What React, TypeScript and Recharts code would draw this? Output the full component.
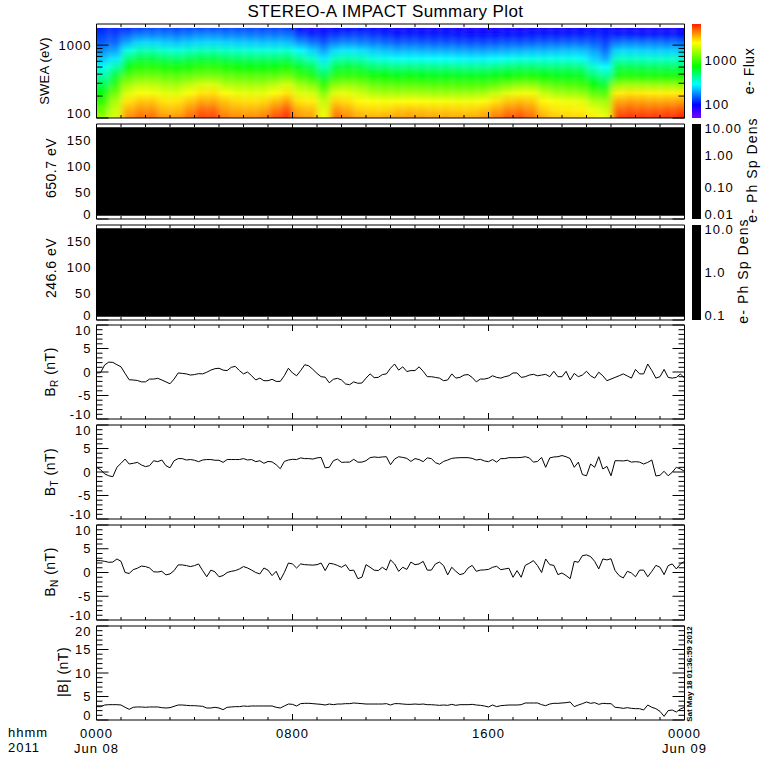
import React from "react";
import { Bar, ComposedChart, Line, XAxis, YAxis } from "recharts";

const FONT = "'Liberation Sans', sans-serif";
const LEFT = 96.5;
const RIGHT = 684.5;

// one sample every 10 minutes over the day
const hours = Array.from({ length: 145 }, (_, i) => i / 6);
const hourTicks = Array.from({ length: 25 }, (_, i) => i);

const brValues = [
  -0.2, -0.15, 1.5, 2.1, 2.05, 1.55, 1.1, -0.3, -1.65, -1.7,
  -1.8, -2.1, -2.1, -1.5, -1.5, -1.35, -1.7, -2.1, -2.5, -1.5,
  -0.2, -0.3, -0.4, -0.65, -0.55, -0.35, -0.4, -0.05, 0.4, 0.7,
  0.8, 0.4, 0.3, 1, 1.2, 0.3, -0.4, 0, -0.8, -1.7,
  -1.3, -1.85, -1.85, -1.55, -2, -2, -0.8, 0.8, -0.2, -0.8,
  0.3, 1.55, 1.3, 0.55, -0.3, -1, -1.1, -2.3, -1.55, -1.35,
  -1.7, -2.55, -2.7, -2.1, -2.4, -2.35, -1.3, -0.4, -1.2, -1.15,
  -0.55, -0.4,
  0.8, 1.7, 0.4, 1.1, 0.1, 0.3, 0.3, 1.1, 0.15, -1,
  -1, -1.15, -1.3, -1.85, -1.7, -0.4, -1.3, -1.15, -0.65, -0.55,
  -1.15, -2.1, -1.5, -1.5, -1.3, -0.8, -1.15, -1.3, -1, -0.8,
  -0.2, -0.2, -1.15, -1, -0.65, -0.5, -0.8, -0.65, -0.5, -1,
  0.15, -1, -1, 0.15, -1.7, -0.3, -1, -0.65, 0.15, -0.8,
  -1.3, -0.05, -0.8, -1.85, -1.5, -1.15, -0.8, -0.4, -0.85, -1.3,
  0.55, -0.4, -0.4, 1.7, 0.3, -1.3, -1, 0.55, -1.15, -1.3,
  -1.15, -0.4, -1.3,
];

const btValues = [
  1, 0.5, -0.4, -0.8, -1, 1, 1.85, 2.75, 1.7, 1.85,
  2.05, 1.5, 1.15, 1.35, 2.4, 2.2, 2.55, 1.35, 0.9, 2.4,
  2.85, 2.85, 2.55, 2.65, 2.5, 2.2, 2.55, 2.65, 2.65, 2.5,
  2.5, 2.05, 2.65, 2.65, 2.65, 2.65, 2.85, 2.55, 2.65, 2.2,
  2.4, 1.85, 2.25, 2.15, 1.55, 0.7, 2.25, 2.55, 2.7, 2.65,
  3, 2.85, 2.85, 2.75, 3, 3.1, 0.9, 1, 2.4, 2.75,
  2.05, 2.1, 2.1, 2.7, 2.1, 2.1, 2.4, 3.05, 3.2, 3.1,
  3.2, 3.25,
  1.55, 2.75, 3.25, 3.1, 2.9, 2.25, 2.85, 2.65, 2.2, 3,
  2.85, 2, 1.65, 2.25, 2.55, 2.9, 3, 3.05, 3.05, 3.05,
  2.9, 2.55, 2.7, 2.35, 2.2, 2.65, 2.1, 2.85, 2.85, 3.05,
  3.05, 3.05, 3.1, 3.25, 3, 2.1, 2.25, 3.1, 1, 3,
  3.2, 3.25, 3.5, 3.25, 2.85, 1, 2.1, -0.55, -0.8, 1.7,
  1, 3.25, 0.65, 1.2, -0.8, 2.4, 2.4, 2.35, 2.5, 2.1,
  2.2, 2.1, 1.7, 2.05, 2.55, -0.85, -0.7, 0.15, -0.8, -0.05,
  1, 0.65, 0.15,
];

const bnValues = [
  2.5, 2.5, 2.35, 2.15, 2.2, 2.85, 2.35, 0, -0.2, 0.6,
  0.9, 1.35, 1.25, 0.95, 0.15, 0.1, 0.25, -0.5, -0.3, 0.4,
  1.6, 1.6, 1.45, 1.25, 1.45, 1.8, 0.4, -0.9, 0.5, 0.15,
  -0.9, -0.65, 0, 0.25, 0.4, 0.75, 1.25, 0.95, 0.5, 0,
  -0.3, 0.95, 0.5, -0.65, 0.25, -1.6, 0, 2, 1.8, 0.95,
  1.8, 1.65, 1.6, 1.55, 1.65, 2, 0.4, 1.95, 1.8, 1.5,
  1.1, 1.65, 0.4, 0.5, -1.3, -1, 1.65, 1.1, 0.5, 0.4,
  1.1, 0.5,
  2.65, 1.8, 0.25, 1.1, 0.65, 2.2, 1.65, 1.8, 2.35, 0.5,
  0.5, 1.8, 2.2, 1.45, -0.5, 1.1, 0.25, -0.45, -0.2, 0.95,
  1.5, 0.25, 0.5, 0.55, 0.65, 1.1, 1.3, 0.6, 0.75, 0.9,
  -1, 0.4, -1, 1.5, 1.95, 2.5, 1.45, 0, 2.85, 1.65,
  1.5, -0.45, -0.1, -0.65, -1.3, 2.35, 2.15, 3.55, 3.7, 3.35,
  2.35, 0.75, 2.85, 2.65, 2.9, 0.4, -0.65, -1.15, 0.25, -0.1,
  -0.9, 0.5, 0.5, -0.9, 0.25, 1.5, 1.1, -0.45, 1.45, 1.8,
  0.75, 1.8, 2.35,
];

const bmagValues = [
  2.84, 2.84, 3.19, 3.26, 3.26, 3.26, 3.19, 2.7, 2.27, 2.7,
  2.77, 2.77, 2.7, 2.77, 2.77, 2.77, 2.62, 2.55, 2.62, 2.91,
  3.19, 3.19, 3.12, 3.05, 3.05, 2.98, 2.91, 2.55, 2.55, 2.7,
  2.55, 2.2, 2.7, 2.77, 2.84, 2.84, 2.98, 2.91, 2.98, 2.98,
  2.98, 2.98, 2.98, 2.98, 2.7, 2.55, 2.98, 3.4, 3.33, 2.98,
  3.48, 3.55, 3.55, 3.48, 3.4, 3.33, 3.19, 3.4, 3.26, 3.4,
  3.4, 3.48, 3.48, 3.62, 3.55, 3.48, 3.4, 3.4, 3.4, 3.4,
  3.4, 3.48,
  3.19, 3.48, 3.48, 3.4, 3.33, 3.33, 3.4, 3.33, 3.4, 3.26,
  3.26, 3.19, 3.12, 3.19, 3.12, 3.33, 3.12, 3.26, 3.26, 3.26,
  3.33, 3.19, 3.12, 2.98, 2.77, 3.19, 2.84, 3.05, 3.12, 3.19,
  3.19, 3.19, 3.26, 3.62, 3.62, 3.62, 3.62, 3.26, 3.05, 3.4,
  3.55, 3.55, 3.62, 3.69, 3.83, 2.84, 3.19, 3.48, 3.83, 3.55,
  3.69, 3.33, 3.55, 3.48, 3.48, 2.7, 2.62, 2.48, 2.62, 2.48,
  2.41, 2.41, 2.13, 3.19, 2.7, 2.41, 1.84, 0.78, 1.99, 2.13,
  1.7, 2.34, 2.7,
];

// SWEA spectrogram, log10 of flux, one value per half hour at each energy channel
const sweaEnergies = [1720, 1400, 1100, 850, 650, 500, 380, 290, 220, 170, 130, 100];
const flux1720 = [2.05,2.05,2.07,2.1,2.12,2.12,2.1,2.12,2.12,2.12,2.12,2.12,2.12,2.11,2.11,2.1, 2.0,1.96,1.97,1.98,2.0,2.0,2.0,1.98, 1.96,1.97,1.96,1.96,1.97,1.96,1.95,1.95,1.95,1.95,1.95,1.96,1.96,1.96,1.96,1.97,1.97,1.98, 1.95,1.95,1.94,1.94,1.94,1.94];
const flux1400 = [2.1,2.1,2.17,2.22,2.22,2.22,2.2,2.22,2.24,2.24,2.22,2.22,2.21,2.2,2.2,2.2, 2.1,2.06,2.05,2.08,2.1,2.1,2.08,2.06, 2.03,2.04,2.03,2.03,2.03,2.02,2.01,2.01,2.01,2.02,2.02,2.03,2.03,2.03,2.04,2.04,2.05,2.03, 2.04,2.04,2.03,2.03,2.03,2.03];
const flux1100 = [2.16,2.17,2.3,2.38,2.38,2.36,2.34,2.36,2.38,2.38,2.37,2.36,2.35,2.34,2.34,2.34, 2.26,2.2,2.14,2.22,2.24,2.22,2.2,2.18, 2.15,2.16,2.15,2.14,2.14,2.13,2.12,2.12,2.13,2.14,2.14,2.15,2.16,2.16,2.17,2.17,2.15,2.1, 2.2,2.21,2.2,2.2,2.19,2.19];
const flux850 = [2.25,2.28,2.5,2.58,2.58,2.54,2.52,2.55,2.57,2.57,2.55,2.54,2.53,2.52,2.52,2.53, 2.45,2.38,2.28,2.4,2.42,2.4,2.36,2.34, 2.31,2.32,2.31,2.3,2.3,2.29,2.28,2.28,2.29,2.3,2.31,2.32,2.32,2.33,2.34,2.34,2.28,2.18, 2.38,2.38,2.37,2.36,2.36,2.36];
const flux650 = [2.36,2.42,2.68,2.76,2.76,2.72,2.7,2.73,2.76,2.76,2.73,2.71,2.7,2.7,2.7,2.72, 2.63,2.56,2.42,2.58,2.6,2.58,2.52,2.5, 2.47,2.48,2.47,2.46,2.46,2.45,2.44,2.44,2.46,2.48,2.5,2.5,2.5,2.5,2.5,2.48,2.38,2.3, 2.56,2.56,2.55,2.54,2.54,2.54];
const flux500 = [2.48,2.6,2.86,2.93,2.93,2.9,2.88,2.9,2.94,2.94,2.9,2.88,2.87,2.87,2.87,2.9, 2.8,2.74,2.58,2.76,2.78,2.76,2.7,2.68, 2.66,2.67,2.66,2.65,2.65,2.64,2.64,2.64,2.66,2.68,2.7,2.7,2.68,2.68,2.68,2.66,2.54,2.46, 2.74,2.74,2.73,2.72,2.72,2.72];
const flux380 = [2.6,2.78,3.02,3.08,3.08,3.05,3.04,3.06,3.1,3.1,3.06,3.04,3.03,3.03,3.04,3.08, 2.98,2.92,2.74,2.94,2.96,2.94,2.88,2.86, 2.84,2.85,2.84,2.83,2.83,2.82,2.82,2.82,2.84,2.87,2.9,2.9,2.86,2.84,2.84,2.82,2.7,2.62, 2.9,2.92,2.9,2.9,2.89,2.89];
const flux290 = [2.72,2.94,3.18,3.25,3.24,3.2,3.18,3.24,3.3,3.3,3.22,3.2,3.19,3.19,3.24,3.3, 3.18,3.12,2.92,3.14,3.16,3.12,3.06,3.04, 3.02,3.03,3.02,3.01,3.01,3.0,3.0,3.0,3.04,3.1,3.14,3.14,3.06,3.02,3.0,2.98,2.86,2.78, 3.16,3.18,3.17,3.16,3.16,3.16];
const flux220 = [2.84,3.08,3.32,3.38,3.37,3.33,3.32,3.38,3.44,3.45,3.38,3.34,3.33,3.33,3.38,3.44, 3.32,3.3,3.12,3.33,3.33,3.28,3.22,3.2, 3.2,3.21,3.2,3.18,3.18,3.18,3.18,3.2,3.26,3.32,3.36,3.36,3.26,3.2,3.18,3.16,3.04,3.0, 3.42,3.44,3.43,3.42,3.42,3.42];
const flux170 = [2.96,3.2,3.44,3.5,3.5,3.44,3.44,3.5,3.56,3.56,3.5,3.46,3.45,3.46,3.52,3.58, 3.44,3.42,3.26,3.48,3.45,3.4,3.38,3.37, 3.38,3.39,3.38,3.37,3.37,3.36,3.36,3.38,3.44,3.5,3.52,3.5,3.4,3.36,3.35,3.33,3.22,3.18, 3.56,3.58,3.57,3.56,3.56,3.57];
const flux130 = [3.08,3.28,3.54,3.6,3.6,3.52,3.52,3.6,3.68,3.68,3.58,3.55,3.54,3.56,3.64,3.72, 3.54,3.52,3.32,3.6,3.55,3.48,3.47,3.47, 3.5,3.51,3.5,3.49,3.49,3.48,3.48,3.5,3.56,3.62,3.64,3.6,3.48,3.44,3.43,3.42,3.34,3.28, 3.68,3.7,3.69,3.69,3.7,3.71];
const flux100 = [3.18,3.32,3.62,3.68,3.68,3.6,3.6,3.68,3.76,3.76,3.65,3.62,3.62,3.64,3.74,3.8, 3.6,3.58,3.36,3.68,3.62,3.56,3.55,3.56, 3.58,3.59,3.58,3.57,3.57,3.56,3.56,3.58,3.65,3.72,3.74,3.68,3.55,3.5,3.48,3.47,3.42,3.36, 3.78,3.79,3.79,3.79,3.8,3.81];
const fluxChannels = [flux1720, flux1400, flux1100, flux850, flux650, flux500, flux380, flux290, flux220, flux170, flux130, flux100];

const pitchAngleRange = [6, 174];
const fluxBarDomain = [50, 6500];
const rainbow: [number, string][] = [
  [0, "#7a00ff"], [0.14, "#0000ff"], [0.25, "#0080ff"], [0.36, "#00ffff"],
  [0.55, "#00ff00"], [0.8, "#ffff00"], [0.9, "#ff9000"], [1, "#ff2000"],
];

const hexToRgb = (h: string) => [1, 3, 5].map((i) => parseInt(h.slice(i, i + 2), 16));
function rainbowAt(t: number) {
  const v = Math.min(1, Math.max(0, t));
  for (let i = 1; i < rainbow.length; i++) {
    if (v <= rainbow[i][0]) {
      const f = (v - rainbow[i - 1][0]) / (rainbow[i][0] - rainbow[i - 1][0]);
      const a = hexToRgb(rainbow[i - 1][1]);
      const b = hexToRgb(rainbow[i][1]);
      return `rgb(${a.map((c, k) => Math.round(c + (b[k] - c) * f)).join(",")})`;
    }
  }
  return rainbow[rainbow.length - 1][1];
}
const logMin = Math.log10(fluxBarDomain[0]);
const logMax = Math.log10(fluxBarDomain[1]);

const columnHours = 0.5;
const heatData = flux100.map((_, i) => ({
  hour: (i + 0.5) * columnHours,
  range: [100, 1720],
  levels: fluxChannels.map((row) => row[i]),
}));
const lineTable = (values: number[]) => hours.map((hour, i) => ({ hour, value: values[i] }));

function HeatColumn(props: any) {
  const { x, y, width, height, index, payload } = props;
  const id = `heat-col-${index}`;
  const span = Math.log10(1720 / 100);
  const last = index === heatData.length - 1;
  // edge columns run past the frame so the blur does not fade there, the axis clip cuts them
  const rx = index === 0 ? x - width : x;
  const rw = index === 0 || last ? width * 2 : width;
  return (
    <g>
      <defs>
        <linearGradient id={id} x1="0" y1="0" x2="0" y2="1">
          {sweaEnergies.map((e, k) => (
            <stop
              key={e}
              offset={Math.log10(1720 / e) / span}
              stopColor={rainbowAt((payload.levels[k] - logMin) / (logMax - logMin))}
            />
          ))}
        </linearGradient>
      </defs>
      <rect x={rx} y={y} width={rw + 0.5} height={height} fill={`url(#${id})`} />
    </g>
  );
}

function makeXTick(side: "top" | "bottom", labels?: Record<number, string[]>) {
  return function XTick(props: any) {
    const { x, payload, y } = props;
    const h = payload.value;
    const len = h % 8 === 0 ? 6 : 3;
    const dir = side === "top" ? 1 : -1;
    const text = labels?.[h];
    return (
      <g>
        <line x1={x} x2={x} y1={y} y2={y + dir * len} stroke="#000" />
        {text?.map((t, i) => (
          <text key={i} x={x} y={y + 18 + i * 15} textAnchor="middle" fontFamily={FONT} fontSize={13} fill="#000" letterSpacing={1}>
            {t}
          </text>
        ))}
      </g>
    );
  };
}

function makeYTick(side: "left" | "right", majors: number[], min: number, max: number) {
  return function YTick(props: any) {
    const { x, y, payload } = props;
    const v = payload.value;
    const major = majors.includes(v);
    const dir = side === "left" ? 1 : -1;
    const shift = v === max ? 5 : v === min ? -5 : 0;
    return (
      <g>
        <line x1={x} x2={x + dir * (major ? 12 : 6)} y1={y} y2={y} stroke="#000" />
        {side === "left" && major && (
          <text x={x - 5} y={y + shift} dy="0.36em" textAnchor="end" fontFamily={FONT} fontSize={13} fill="#000" letterSpacing={1}>
            {v}
          </text>
        )}
      </g>
    );
  };
}

const minorLinear = (from: number, to: number, step: number) => {
  const out: number[] = [];
  for (let v = from; v <= to; v += step) out.push(v);
  return out;
};

type PanelProps = {
  top: number;
  bottom: number;
  domain: number[];
  scale?: "log" | "linear";
  ticks: number[];
  majors: number[];
  data: any[];
  padBottom?: number;
  labels?: Record<number, string[]>;
  children: React.ReactNode;
};

function Panel({ top, bottom, domain, scale = "linear", ticks, majors, data, padBottom = 6, labels, children }: PanelProps) {
  const pad = 6;
  // axes need a size of at least 1 to be drawn, so the margins give that pixel back
  return (
    <div style={{ position: "absolute", left: 0, top: top - pad }}>
      <ComposedChart
        width={780}
        height={bottom - top + pad + padBottom}
        data={data}
        margin={{ top: pad - 1, bottom: padBottom - 1, left: LEFT - 1, right: 780 - RIGHT - 1 }}
      >
        <XAxis
          dataKey="hour"
          type="number"
          domain={[0, 24]}
          ticks={hourTicks}
          interval={0}
          height={1}
          tickSize={0}
          tickMargin={0}
          tickLine={false}
          allowDataOverflow
          axisLine={{ stroke: "#000" }}
          tick={makeXTick("bottom", labels)}
        />
        <XAxis
          xAxisId="top"
          orientation="top"
          dataKey="hour"
          type="number"
          domain={[0, 24]}
          ticks={hourTicks}
          interval={0}
          height={1}
          tickSize={0}
          tickMargin={0}
          tickLine={false}
          axisLine={{ stroke: "#000" }}
          tick={makeXTick("top")}
        />
        <YAxis
          type="number"
          scale={scale}
          domain={domain}
          ticks={ticks}
          interval={0}
          width={1}
          tickSize={0}
          tickMargin={0}
          tickLine={false}
          allowDataOverflow
          axisLine={{ stroke: "#000" }}
          tick={makeYTick("left", majors, domain[0], domain[1])}
        />
        <YAxis
          yAxisId="right"
          orientation="right"
          type="number"
          scale={scale}
          domain={domain}
          ticks={ticks}
          interval={0}
          width={1}
          tickSize={0}
          tickMargin={0}
          tickLine={false}
          allowDataOverflow
          axisLine={{ stroke: "#000" }}
          tick={makeYTick("right", majors, domain[0], domain[1])}
        />
        {children}
      </ComposedChart>
    </div>
  );
}

function PitchPanel({ top, bottom }: { top: number; bottom: number }) {
  return (
    <Panel
      top={top}
      bottom={bottom}
      domain={[0, 180]}
      ticks={[0, 50, 100, 150]}
      majors={[0, 50, 100, 150]}
      data={[{ hour: 12, range: pitchAngleRange }]}
    >
      <Bar dataKey="range" fill="#000" barSize={RIGHT - LEFT} isAnimationActive={false} />
    </Panel>
  );
}

function ColorTick(shiftTop: number, shiftBottom: number, domain: number[], digits: number) {
  return function CT(props: any) {
    const { x, y, payload } = props;
    const v = payload.value;
    const shift = v === domain[1] ? shiftTop : v === domain[0] ? shiftBottom : 0;
    return (
      <text x={x + 3.5} y={y + shift} dy="0.36em" fontFamily={FONT} fontSize={13} fill="#000" letterSpacing={1}>
        {digits ? Number(v).toFixed(digits) : v}
      </text>
    );
  };
}

function ColorBar({ top, bottom, domain, ticks, digits, fill }: { top: number; bottom: number; domain: number[]; ticks: number[]; digits: number; fill: string }) {
  const pad = 6;
  return (
    <div style={{ position: "absolute", left: 692, top: top - pad }}>
      <ComposedChart
        width={60}
        height={bottom - top + 2 * pad}
        data={[{ name: "scale", range: domain }]}
        margin={{ top: pad, bottom: pad, left: 0, right: 50 }}
        barCategoryGap={0}
      >
        <defs>
          <linearGradient id="rainbowBar" x1="0" y1="1" x2="0" y2="0">
            {rainbow.map(([t, c]) => (
              <stop key={t} offset={t} stopColor={c} />
            ))}
          </linearGradient>
        </defs>
        <XAxis dataKey="name" hide />
        <YAxis
          orientation="right"
          scale="log"
          type="number"
          domain={domain}
          ticks={ticks}
          interval={0}
          width={1}
          tickSize={0}
          tickMargin={0}
          tickLine={false}
          axisLine={false}
          allowDataOverflow
          tick={ColorTick(4, -5, domain, digits)}
        />
        <Bar dataKey="range" fill={fill} isAnimationActive={false} />
      </ComposedChart>
    </div>
  );
}

const textBase = { fontFamily: FONT, fontSize: 14, fill: "#000", letterSpacing: 0.5 } as const;

function VLabel({ x, y, size = 14, spacing = 0.5, children }: { x: number; y: number; size?: number; spacing?: number; children: React.ReactNode }) {
  return (
    <text {...textBase} fontSize={size} letterSpacing={spacing} x={x} y={y} textAnchor="middle" dominantBaseline="central" transform={`rotate(-90 ${x} ${y})`}>
      {children}
    </text>
  );
}

const Sub = ({ c }: { c: string }) => (
  <>
    <tspan dy={4} fontSize={10}>{c}</tspan>
    <tspan dy={-4}> (nT)</tspan>
  </>
);

const magLine = <Line dataKey="value" stroke="#000" strokeWidth={1} dot={false} isAnimationActive={false} />;
const magTicks = minorLinear(-10, 10, 1);
const magMajors = [-10, -5, 0, 5, 10];

export default function App() {
  return (
    <div style={{ position: "relative", width: 780, height: 780, background: "#fff", overflow: "hidden" }}>
      <style>{`
        body { margin: 0; }
        .heat .recharts-bar-rectangles { filter: url(#heatBlur); }
      `}</style>
      <svg width={0} height={0} style={{ position: "absolute" }}>
        <defs>
          <filter id="heatBlur" x="-5%" y="0%" width="110%" height="100%">
            <feGaussianBlur stdDeviation="3.5 0" />
          </filter>
        </defs>
      </svg>

      <div className="heat">
        <Panel
          top={23.5}
          bottom={117.5}
          domain={[100, 1950]}
          scale="log"
          ticks={[100, 200, 300, 400, 500, 600, 700, 800, 900, 1000]}
          majors={[100, 1000]}
          data={heatData}
        >
          <Bar dataKey="range" barSize={(RIGHT - LEFT) / heatData.length} shape={HeatColumn} isAnimationActive={false} />
        </Panel>
      </div>
      <PitchPanel top={123.5} bottom={218.5} />
      <PitchPanel top={224.5} bottom={319.5} />

      <Panel top={324.5} bottom={418.5} domain={[-10, 10]} ticks={magTicks} majors={magMajors} data={lineTable(brValues)}>
        {magLine}
      </Panel>
      <Panel top={424.5} bottom={518.5} domain={[-10, 10]} ticks={magTicks} majors={magMajors} data={lineTable(btValues)}>
        {magLine}
      </Panel>
      <Panel top={524.5} bottom={619.5} domain={[-10, 10]} ticks={magTicks} majors={magMajors} data={lineTable(bnValues)}>
        {magLine}
      </Panel>
      <Panel
        top={625.5}
        bottom={719.5}
        domain={[0, 20]}
        ticks={minorLinear(0, 20, 1)}
        majors={[0, 5, 10, 15, 20]}
        data={lineTable(bmagValues)}
        padBottom={40}
        labels={{ 0: ["0000", "Jun 08"], 8: ["0800"], 16: ["1600"], 24: ["0000", "Jun 09"] }}
      >
        {magLine}
      </Panel>

      <ColorBar top={23.5} bottom={117.5} domain={fluxBarDomain} ticks={[100, 1000]} digits={0} fill="url(#rainbowBar)" />
      <ColorBar top={123.5} bottom={218.5} domain={[0.01, 10]} ticks={[0.01, 0.1, 1, 10]} digits={2} fill="#000" />
      <ColorBar top={224.5} bottom={319.5} domain={[0.1, 10]} ticks={[0.1, 1, 10]} digits={1} fill="#000" />

      <svg width={780} height={780} style={{ position: "absolute", left: 0, top: 0, pointerEvents: "none" }}>
        <text {...textBase} x={385.5} y={17} textAnchor="middle" fontSize={17} letterSpacing={0.4}>
          STEREO-A IMPACT Summary Plot
        </text>

        <VLabel x={44} y={71} size={13} spacing={0.2}>SWEA (eV)</VLabel>
        <VLabel x={51} y={168}>650.7 eV</VLabel>
        <VLabel x={51} y={268}>246.6 eV</VLabel>
        <VLabel x={50} y={372}>B<Sub c="R" /></VLabel>
        <VLabel x={50} y={472}>B<Sub c="T" /></VLabel>
        <VLabel x={50} y={572}>B<Sub c="N" /></VLabel>
        <VLabel x={63} y={672}>|B| (nT)</VLabel>

        <VLabel x={749} y={71}>e- Flux</VLabel>
        <VLabel x={752} y={170} spacing={1.1}>e- Ph Sp Dens</VLabel>
        <VLabel x={743} y={271} spacing={1.1}>e- Ph Sp Dens</VLabel>

        <text {...textBase} fontSize={13} letterSpacing={1} x={8} y={737}>hhmm</text>
        <text {...textBase} fontSize={13} letterSpacing={1} x={8} y={752}>2011</text>

        <text fontFamily={FONT} fontSize={8} fontWeight="bold" fill="#000" textAnchor="middle" dominantBaseline="central" transform="translate(689 674) rotate(-90)">
          Sat May 18 01:36:59 2012
        </text>
      </svg>
    </div>
  );
}
